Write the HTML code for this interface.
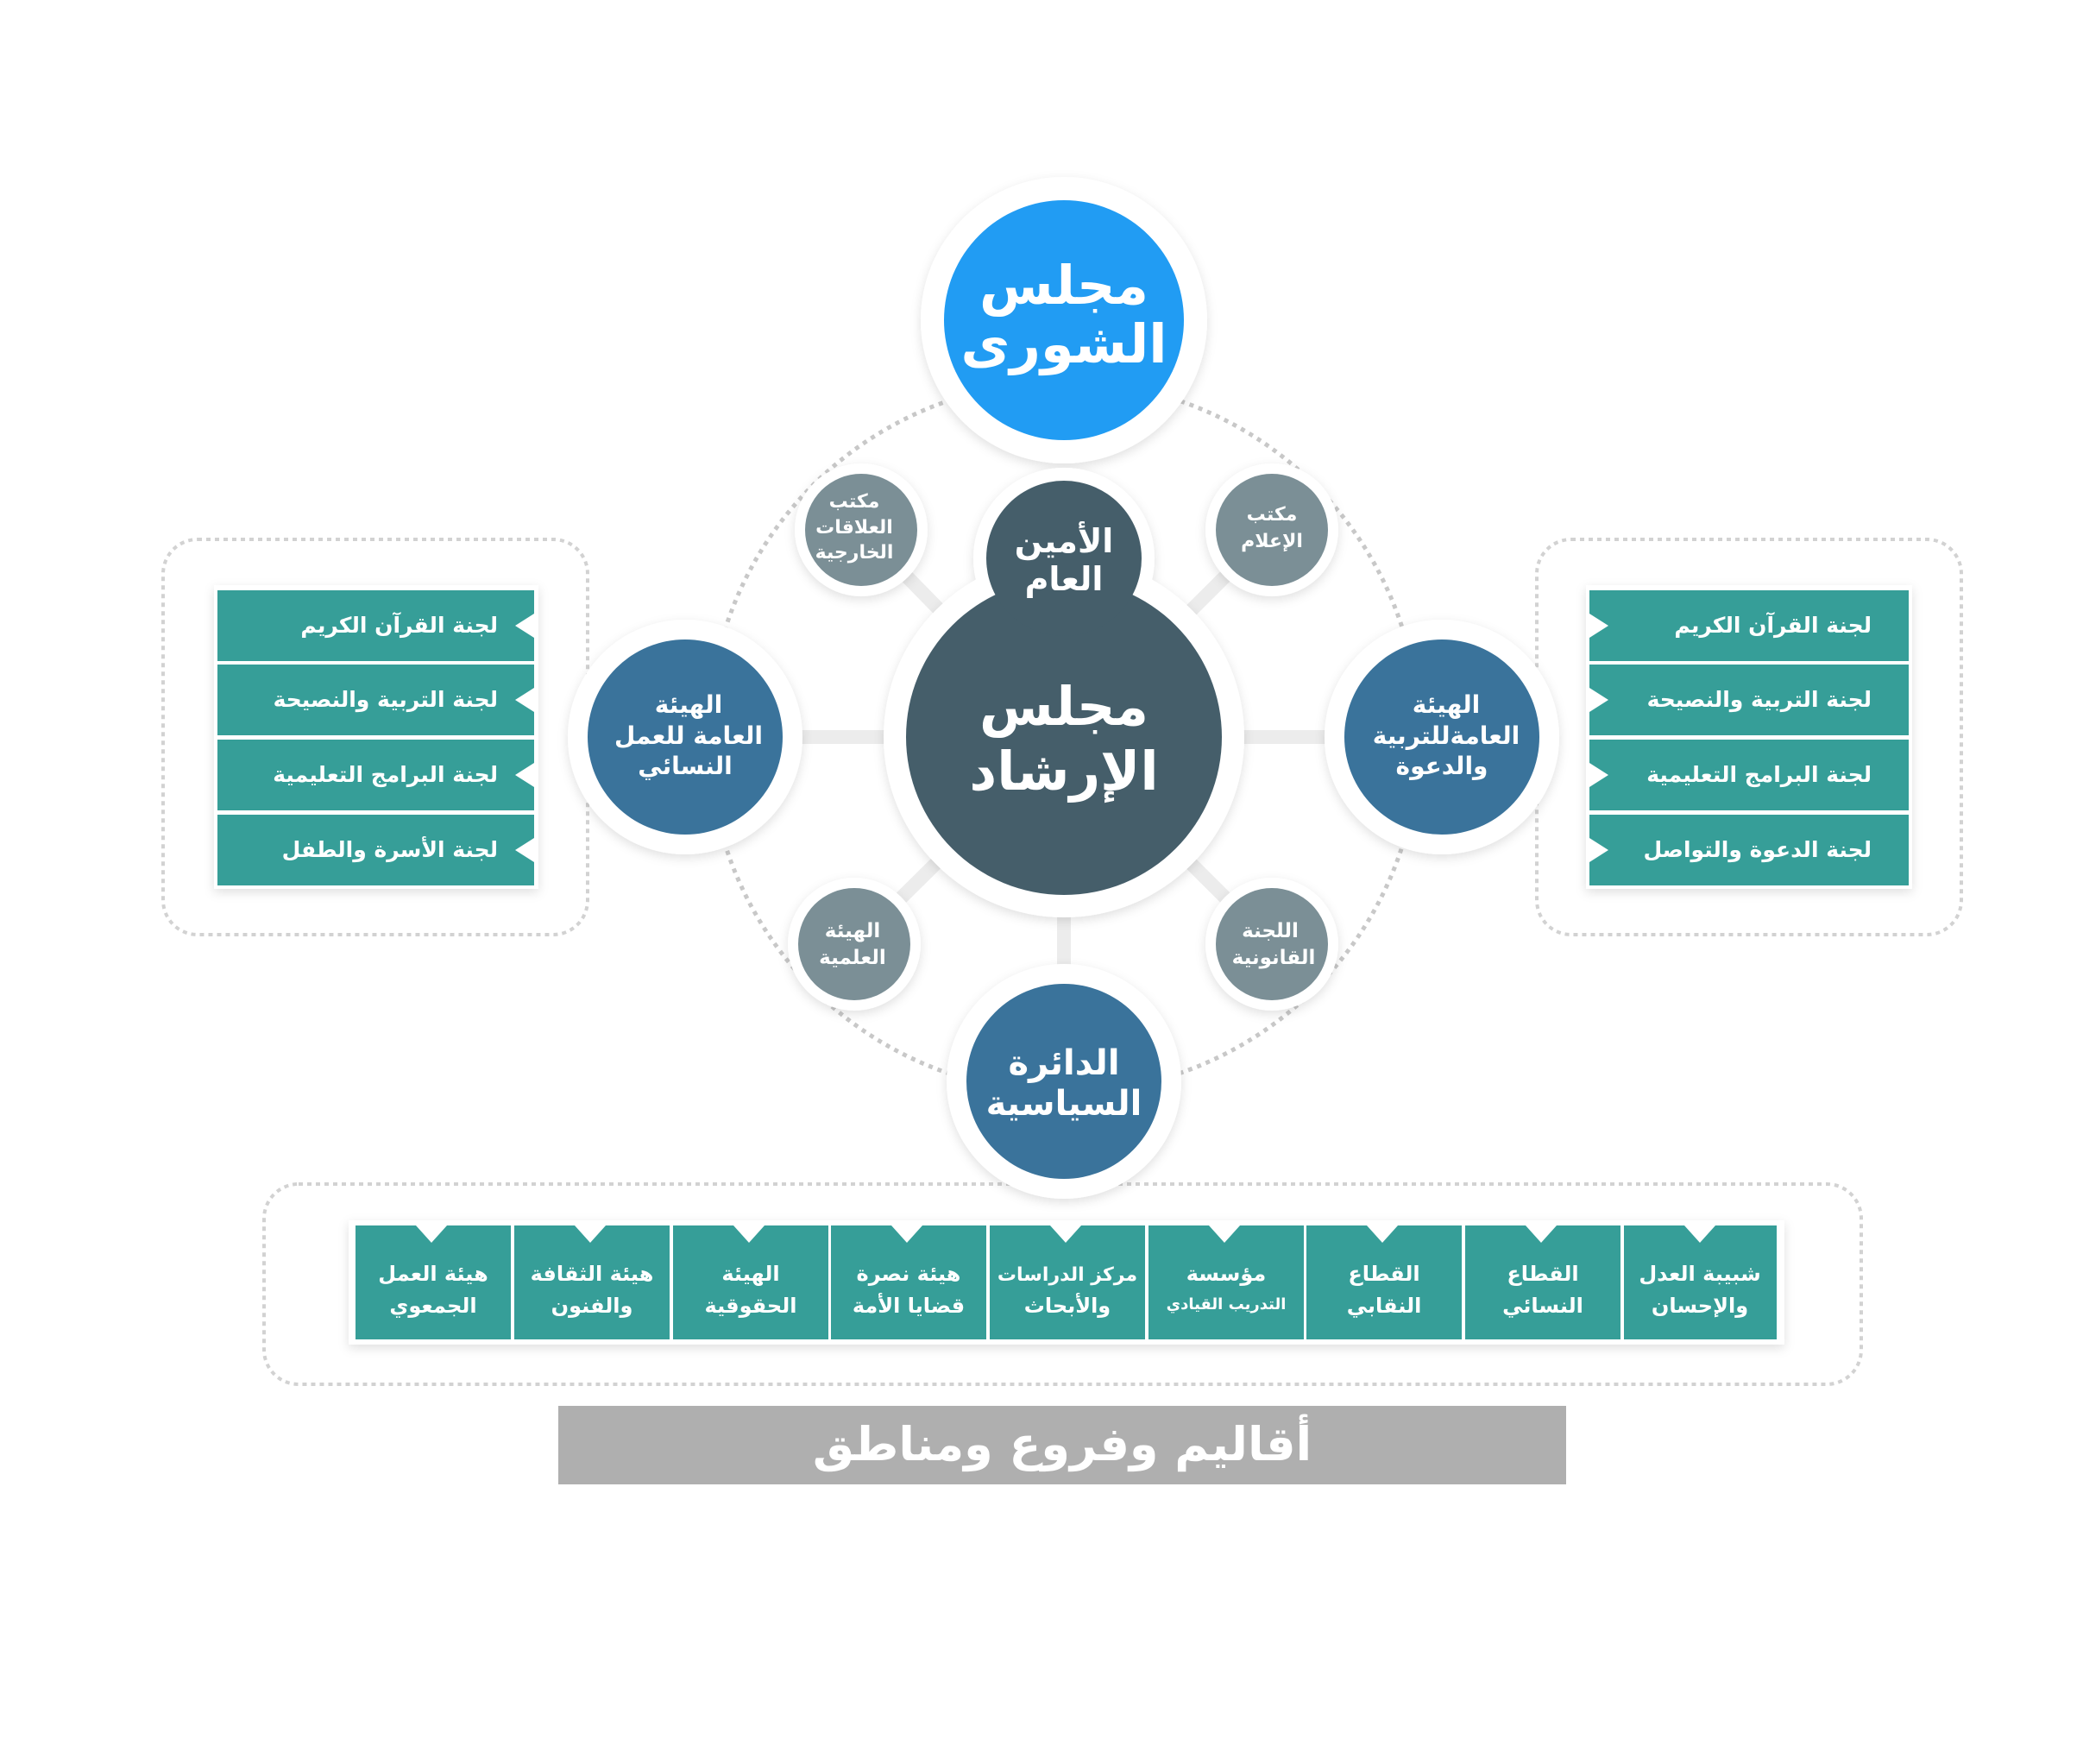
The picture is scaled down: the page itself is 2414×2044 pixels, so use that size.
<!DOCTYPE html>
<html><head><meta charset="utf-8"><style>
html,body{margin:0;padding:0;background:#fff}
svg{display:block}
text{font-family:"DejaVu Sans",sans-serif;font-weight:bold;fill:#fff;text-anchor:middle;direction:rtl}
</style></head><body>
<svg width="2414" height="2044" viewBox="0 0 2414 2044" xmlns="http://www.w3.org/2000/svg">
<defs>
<filter id="sh" x="-30%" y="-30%" width="160%" height="160%"><feDropShadow dx="0" dy="4" stdDeviation="6" flood-color="#000" flood-opacity="0.12"/></filter>
</defs>
<rect x="189" y="625" width="492" height="458" rx="40" fill="none" stroke="#d2d2d2" stroke-width="4" stroke-dasharray="5 5"/>
<rect x="1781" y="625" width="492" height="458" rx="40" fill="none" stroke="#d2d2d2" stroke-width="4" stroke-dasharray="5 5"/>
<rect x="306" y="1372" width="1851" height="232" rx="40" fill="none" stroke="#d2d2d2" stroke-width="4" stroke-dasharray="5 5"/>
<circle cx="1233" cy="854" r="412" fill="none" stroke="#c8c8c8" stroke-width="5" stroke-dasharray="5 6"/>
<g stroke="#ececec" stroke-width="16" stroke-linecap="round">
<line x1="1233" y1="854" x2="794" y2="854"/>
<line x1="1233" y1="854" x2="1671" y2="854"/>
<line x1="1233" y1="854" x2="1233" y2="1253"/>
<line x1="1233" y1="854" x2="998" y2="614"/>
<line x1="1233" y1="854" x2="1474" y2="614"/>
<line x1="1233" y1="854" x2="990" y2="1094"/>
<line x1="1233" y1="854" x2="1474" y2="1094"/>
</g>
<g fill="#fff" filter="url(#sh)">
<circle cx="1233" cy="371" r="166"/>
<circle cx="1233" cy="854" r="209"/>
<circle cx="794" cy="854" r="136"/>
<circle cx="1671" cy="854" r="136"/>
<circle cx="1233" cy="1253" r="136"/>
<circle cx="998" cy="614" r="77"/>
<circle cx="1474" cy="614" r="77"/>
<circle cx="990" cy="1094" r="77"/>
<circle cx="1474" cy="1094" r="77"/>
<circle cx="1233" cy="647" r="105"/>
</g>
<circle cx="1233" cy="371" r="139" fill="#219cf3"/>
<circle cx="1233" cy="854" r="183" fill="#455e6a"/>
<circle cx="794" cy="854" r="113" fill="#3a739b"/>
<circle cx="1671" cy="854" r="113" fill="#3a739b"/>
<circle cx="1233" cy="1253" r="113" fill="#3a739b"/>
<g fill="#7b8f96">
<circle cx="998" cy="614" r="65"/><circle cx="1474" cy="614" r="65"/>
<circle cx="990" cy="1094" r="65"/><circle cx="1474" cy="1094" r="65"/>
</g>
<circle cx="1233" cy="647" r="90" fill="#455e6a"/>
<text x="1233" y="352" font-size="62">مجلس</text>
<text x="1233" y="420" font-size="62">الشورى</text>
<text x="1233" y="840" font-size="62">مجلس</text>
<text x="1233" y="915" font-size="62">الإرشاد</text>
<text x="1233" y="640" font-size="38">الأمين</text>
<text x="1233" y="684" font-size="38">العام</text>
<text x="1233" y="1245" font-size="40">الدائرة</text>
<text x="1233" y="1292" font-size="40">السياسية</text>
<text x="798" y="826" font-size="28">الهيئة</text>
<text x="798" y="862" font-size="28">العامة للعمل</text>
<text x="794" y="897" font-size="28">النسائي</text>
<text x="1676" y="826" font-size="28">الهيئة</text>
<text x="1676" y="862" font-size="28">العامةللتربية</text>
<text x="1671" y="897" font-size="28">والدعوة</text>
<text x="990" y="588" font-size="22">مكتب</text>
<text x="990" y="618" font-size="22">العلاقات</text>
<text x="990" y="647" font-size="22">الخارجية</text>
<text x="1474" y="603" font-size="22">مكتب</text>
<text x="1474" y="634" font-size="22">الإعلام</text>
<text x="988" y="1086" font-size="23">الهيئة</text>
<text x="988" y="1117" font-size="23">العلمية</text>
<text x="1472" y="1086" font-size="23">اللجنة</text>
<text x="1476" y="1117" font-size="23">القانونية</text>
<g filter="url(#sh)">
<rect x="248" y="678" width="376" height="352" fill="#fff"/>
<rect x="1838" y="678" width="378" height="352" fill="#fff"/>
<rect x="404" y="1414" width="1664" height="144" fill="#fff"/>
</g>
<g fill="#369e98">
<path d="M252 684H619V711L597 725L619 739V766H252Z"/>
<path d="M252 770H619V797L597 811L619 825V852H252Z"/>
<path d="M252 857H619V884L597 898L619 912V939H252Z"/>
<path d="M252 944H619V971L597 985L619 999V1026H252Z"/>
<path d="M1842 684H2212V766H1842V739L1864 725L1842 711Z"/>
<path d="M1842 770H2212V852H1842V825L1864 811L1842 797Z"/>
<path d="M1842 857H2212V939H1842V912L1864 898L1842 884Z"/>
<path d="M1842 944H2212V1026H1842V999L1864 985L1842 971Z"/>
</g>
<g font-size="25">
<text x="577" y="733" style="text-anchor:start">لجنة القرآن الكريم</text>
<text x="577" y="819" style="text-anchor:start">لجنة التربية والنصيحة</text>
<text x="577" y="906" style="text-anchor:start">لجنة البرامج التعليمية</text>
<text x="577" y="993" style="text-anchor:start">لجنة الأسرة والطفل</text>
<text x="2169" y="733" style="text-anchor:start">لجنة القرآن الكريم</text>
<text x="2169" y="819" style="text-anchor:start">لجنة التربية والنصيحة</text>
<text x="2169" y="906" style="text-anchor:start">لجنة البرامج التعليمية</text>
<text x="2169" y="993" style="text-anchor:start">لجنة الدعوة والتواصل</text>
</g>
<g fill="#369e98">
<path d="M412 1420H482L500 1440L518 1420H592V1552H412Z"/>
<path d="M596 1420H666L684 1440L702 1420H776V1552H596Z"/>
<path d="M780 1420H850L868 1440L886 1420H960V1552H780Z"/>
<path d="M963 1420H1033L1051 1440L1069 1420H1143V1552H963Z"/>
<path d="M1147 1420H1217L1235 1440L1253 1420H1327V1552H1147Z"/>
<path d="M1331 1420H1401L1419 1440L1437 1420H1511V1552H1331Z"/>
<path d="M1514 1420H1584L1602 1440L1620 1420H1694V1552H1514Z"/>
<path d="M1698 1420H1768L1786 1440L1804 1420H1878V1552H1698Z"/>
<path d="M1882 1420H1952L1970 1440L1988 1420H2059V1552H1882Z"/>
</g>
<g font-size="24">
<text x="502" y="1484">هيئة العمل</text><text x="502" y="1521">الجمعوي</text>
<text x="686" y="1484">هيئة الثقافة</text><text x="686" y="1521">والفنون</text>
<text x="870" y="1484">الهيئة</text><text x="870" y="1521">الحقوقية</text>
<text x="1053" y="1484">هيئة نصرة</text><text x="1053" y="1521">قضايا الأمة</text>
<text x="1237" y="1484" font-size="22">مركز الدراسات</text><text x="1237" y="1521">والأبحاث</text>
<text x="1421" y="1484">مؤسسة</text><text x="1421" y="1517" font-size="18">التدريب القيادي</text>
<text x="1604" y="1484">القطاع</text><text x="1604" y="1521">النقابي</text>
<text x="1788" y="1484">القطاع</text><text x="1788" y="1521">النسائي</text>
<text x="1970" y="1484">شبيبة العدل</text><text x="1970" y="1521">والإحسان</text>
</g>
<rect x="647" y="1629" width="1168" height="91" fill="#afafaf"/>
<text x="1231" y="1692" font-size="54">أقاليم وفروع ومناطق</text>
</svg>
</body></html>
